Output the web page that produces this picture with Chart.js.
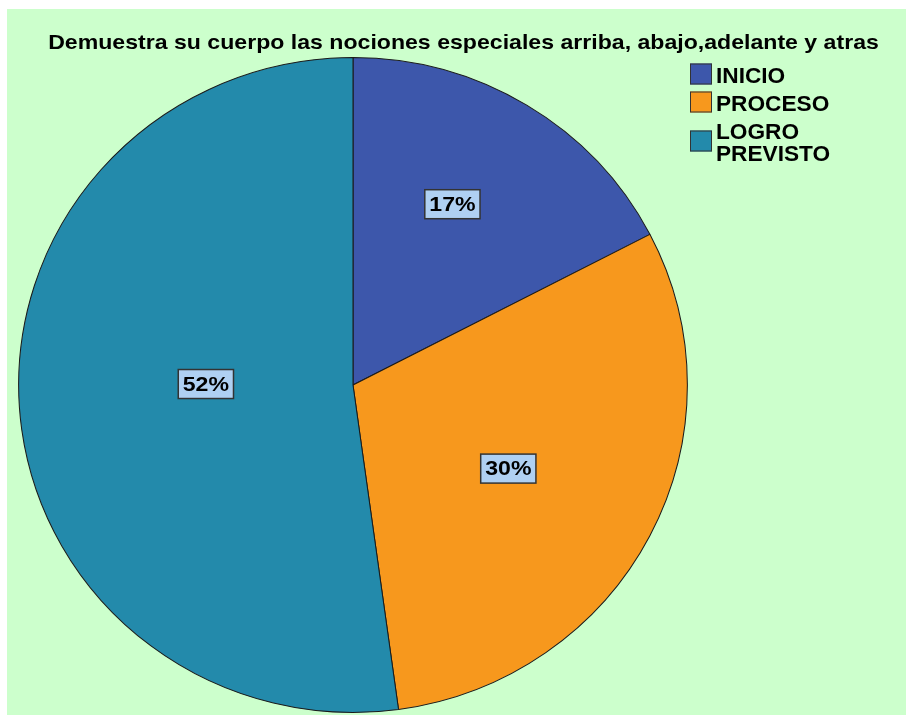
<!DOCTYPE html>
<html>
<head>
<meta charset="utf-8">
<script src="https://cdn.jsdelivr.net/npm/chart.js@4/dist/chart.umd.min.js"></script>
<style>
    body { margin: 0; background: #fff; }
    #wrap { width: 906px; height: 715px; }
</style>
</head>
<body>
<div id="wrap"><canvas id="chart" width="906" height="715"></canvas></div>
<script>
const titleText = 'Demuestra su cuerpo las nociones especiales arriba, abajo,adelante y atras';
const categories = ['INICIO', 'PROCESO', 'LOGRO PREVISTO'];
const counts = [4, 7, 12];
const sliceColors = ['#3d57ab', '#f7981d', '#238aab'];

const FONT = '"Liberation Sans", Arial, sans-serif';
const STRETCH = 1.1;      // the source output has slightly wide text
const PIE_STRETCH = 1.021; // and a slightly wide pie

// draws text stretched horizontally around its anchor
function wideText(ctx, txt, x, y, align, k = STRETCH) {
    const w = ctx.measureText(txt).width * k;
    let left = x;
    if (align === 'center') left = x - w / 2;
    ctx.save();
    ctx.textAlign = 'left';
    ctx.translate(left, y);
    ctx.scale(k, 1);
    ctx.fillText(txt, 0, 0);
    ctx.restore();
    return w;
}

// green panel behind everything
const PluginPanel = {
    id: 'panel',
    beforeDraw(chart) {
        const {ctx, width, height} = chart;
        ctx.save();
        ctx.fillStyle = '#ccffcc';
        ctx.fillRect(7, 9, width - 7, height - 9);
        ctx.restore();
    }
};

// widen the pie a touch, then put the percentage boxes on it
const PluginPercent = {
    id: 'percent',
    beforeDatasetsDraw(chart) {
        const {ctx} = chart;
        const cx = chart.getDatasetMeta(0).data[0].x;
        ctx.save();
        ctx.translate(cx, 0);
        ctx.scale(PIE_STRETCH, 1);
        ctx.translate(-cx, 0);
    },
    afterDatasetsDraw(chart, args, options) {
        const {ctx} = chart;
        ctx.restore();
        const meta = chart.getDatasetMeta(0);
        const data = chart.data.datasets[0].data;
        const total = data.reduce((a, b) => a + b, 0);
        ctx.save();
        ctx.font = 'bold 21px ' + FONT;
        ctx.textBaseline = 'middle';
        meta.data.forEach((arc, i) => {
            const {x, y, startAngle, endAngle, outerRadius} = arc.getProps(['x', 'y', 'startAngle', 'endAngle', 'outerRadius'], true);
            const a = (startAngle + endAngle) / 2 + (options.angleShift[i] || 0) * Math.PI / 180;
            const r = outerRadius * options.radius[i];
            const cx = x + Math.cos(a) * r * PIE_STRETCH;
            const cy = y + Math.sin(a) * r;
            const txt = Math.round(data[i] * 100 / total) + '%';
            const w = ctx.measureText(txt).width * STRETCH + 9;
            const h = 29;
            ctx.fillStyle = '#afd0f2';
            ctx.fillRect(cx - w / 2, cy - h / 2, w, h);
            ctx.strokeStyle = '#333';
            ctx.lineWidth = 1.5;
            ctx.strokeRect(cx - w / 2, cy - h / 2, w, h);
            ctx.fillStyle = '#000';
            wideText(ctx, txt, cx, cy + 1, 'center');
        });
        ctx.restore();
    }
};

// title + legend drawn by hand, SPSS style
const PluginDecor = {
    id: 'decor',
    afterDraw(chart) {
        const {ctx} = chart;
        ctx.save();
        ctx.fillStyle = '#000';
        ctx.font = 'bold 21px ' + FONT;
        ctx.textBaseline = 'alphabetic';
        wideText(ctx, titleText, 463.5, 49, 'center');

        ctx.font = 'bold 22px ' + FONT;
        let y = 63;
        const lineH = 22;
        chart.data.labels.forEach((label, i) => {
            let lines = [label];
            if (ctx.measureText(label).width > 125) lines = label.split(' ');
            const h = lines.length * lineH;
            const boxTop = y + h / 2 - 10.5;
            ctx.fillStyle = chart.data.datasets[0].backgroundColor[i];
            ctx.fillRect(690, boxTop, 22, 21);
            ctx.strokeStyle = '#333';
            ctx.lineWidth = 1;
            ctx.strokeRect(690.5, boxTop + 0.5, 21, 20);
            ctx.fillStyle = '#000';
            lines.forEach((ln, j) => wideText(ctx, ln, 716, y + 20 + j * lineH, 'left', 1.03));
            y += h + 6;
        });
        ctx.restore();
    }
};

new Chart(document.getElementById('chart'), {
    type: 'pie',
    plugins: [PluginPanel, PluginPercent, PluginDecor],
    data: {
        labels: categories,
        datasets: [{
            data: counts,
            backgroundColor: sliceColors,
            borderColor: '#1a1a1a',
            borderWidth: 1
        }]
    },
    options: {
        responsive: false,
        animation: false,
        layout: { padding: { left: 25, right: 225, top: 57, bottom: 2 } },
        plugins: {
            legend: { display: false },
            title: { display: false },
            tooltip: { enabled: false },
            percent: { radius: [0.627, 0.53, 0.44], angleShift: [-3, 1.4, 4.3] }
        }
    }
});
</script>
</body>
</html>
